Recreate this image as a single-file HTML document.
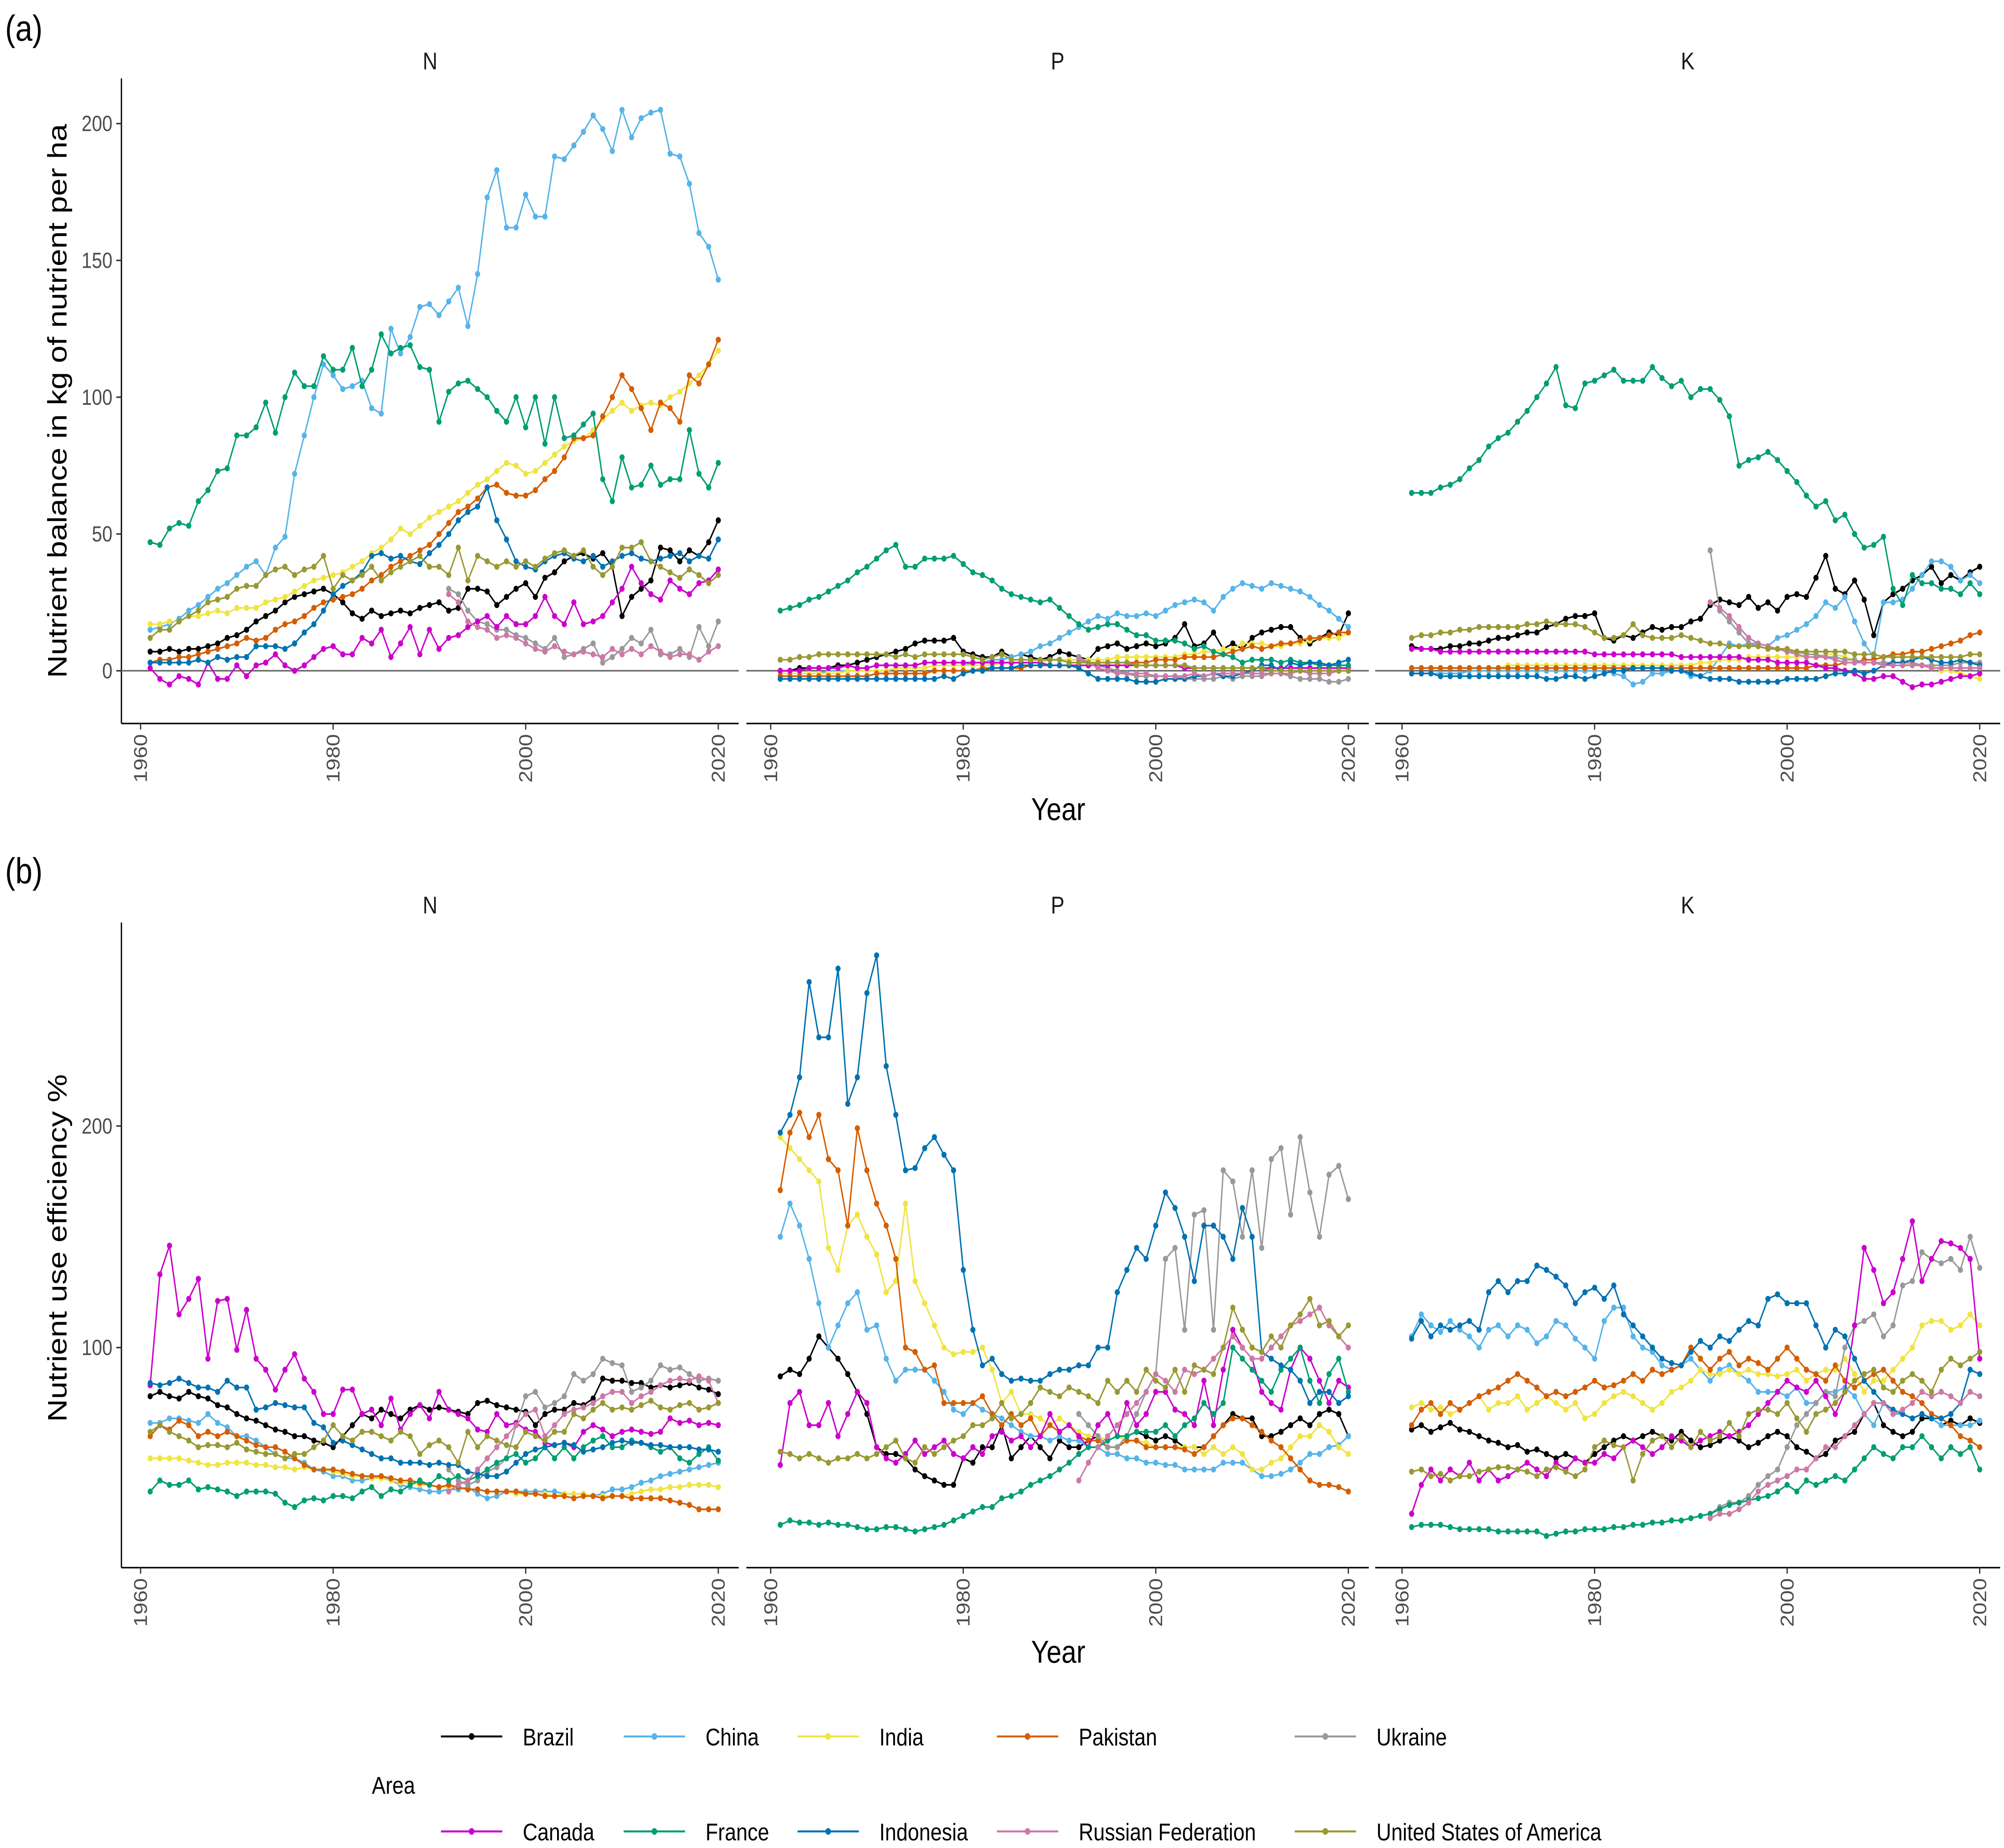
<!DOCTYPE html>
<html><head><meta charset="utf-8"><style>
html,body{margin:0;padding:0;background:#fff;overflow:hidden;width:100vw;height:100vh;}
svg{display:block;font-family:"Liberation Sans",Arial,sans-serif;width:100vw;height:100vh;}
</style></head><body>
<svg id="chart" xmlns="http://www.w3.org/2000/svg" viewBox="0 0 1568 1226" preserveAspectRatio="none">
<rect x="0" y="0" width="1568" height="1226" fill="#fff"/>
<g id="plots"></g>
<text x="4" y="27" font-size="24">(a)</text>
<text x="4" y="586" font-size="24">(b)</text>
<text transform="translate(52,266) rotate(-90)" text-anchor="middle" font-size="21">Nutrient balance in kg of nutrient per ha</text>
<text transform="translate(52,828) rotate(-90)" text-anchor="middle" font-size="21">Nutrient use efficiency %</text>
<text x="828" y="544" text-anchor="middle" font-size="21">Year</text>
<text x="828" y="1103" text-anchor="middle" font-size="21">Year</text>
<g id="legend">
<text x="291" y="1190" font-size="16">Area</text>
</g>
</svg>
<script>
const years = [];
for (let y = 1961; y <= 2020; y++) years.push(y);
const N = null;
const seriesNames = ["Brazil","China","India","Pakistan","Ukraine","Canada","France","Indonesia","Russian Federation","United States of America"];
const seriesColors = ["#000000","#56B4E9","#F0E442","#D55E00","#999999","#CC00CC","#009E73","#0072B2","#CC79A7","#999933"];
const yTicksA = [0,50,100,150,200];
const yTicksB = [100,200];
const xTicks = [1960,1980,2000,2020];
const panelLabels = ["N","P","K"];

// (a) Nutrient balance N
const aN_Brazil = [7,7,8,7,8,8,9,10,12,13, 15,18,20,22,25,27,28,29,30,28, 25,21,19,22,20,21,22,21,23,24, 25,22,23,30,30,29,24,27,30,32, 27,34,36,40,42,43,41,43,38,20, 27,30,33,45,44,40,44,42,47,55];
const aN_China = [15,16,17,19,22,24,27,30,32,35, 38,40,35,45,49,72,86,100,112,108, 103,104,106,96,94,125,116,122,133,134, 130,135,140,126,145,173,183,162,162,174, 166,166,188,187,192,197,203,198,190,205, 195,202,204,205,189,188,178,160,155,143];
const aN_India = [17,17,18,18,20,20,21,22,21,23, 23,23,25,26,27,29,31,33,34,35, 36,38,40,43,45,48,52,50,53,56, 58,60,62,65,68,70,73,76,75,72, 73,76,79,82,84,85,88,92,95,98, 95,97,98,97,100,102,105,108,112,117];
const aN_Pakistan = [3,4,4,5,5,6,7,8,9,10, 12,11,12,15,17,18,20,23,25,26, 27,28,30,33,35,38,40,42,44,46, 50,54,58,60,63,67,68,65,64,64, 66,70,73,78,85,85,86,93,100,108, 103,96,88,98,96,91,108,105,112,121];
const aN_Ukraine = [N,N,N,N,N,N,N,N,N,N, N,N,N,N,N,N,N,N,N,N, N,N,N,N,N,N,N,N,N,N, N,30,28,22,18,17,15,15,13,12, 10,8,12,5,6,8,10,3,5,8, 12,10,15,6,6,8,5,16,9,18];
const aN_Canada = [1,-3,-5,-2,-3,-5,3,-3,-3,2, -2,2,3,6,2,0,2,5,8,9, 6,6,12,10,15,5,10,16,6,15, 8,12,13,16,18,20,16,20,17,17, 20,27,20,17,25,17,18,20,25,30, 38,32,28,26,33,30,28,32,33,37];
const aN_France = [47,46,52,54,53,62,66,73,74,86, 86,89,98,87,100,109,104,104,115,110, 110,118,104,110,123,116,118,119,111,110, 91,102,105,106,103,100,95,91,100,89, 100,83,100,85,86,90,94,70,62,78, 67,68,75,68,70,70,88,72,67,76];
const aN_Indonesia = [3,3,3,3,3,4,3,5,4,5, 5,9,9,9,8,10,14,17,22,28, 31,33,36,42,43,41,42,40,39,43, 46,50,55,58,60,67,55,48,40,38, 37,40,42,43,41,40,42,38,40,42, 43,41,40,41,42,43,40,42,41,48];
const aN_Russia = [N,N,N,N,N,N,N,N,N,N, N,N,N,N,N,N,N,N,N,N, N,N,N,N,N,N,N,N,N,N, N,28,25,18,16,15,12,13,12,10, 8,7,9,7,6,7,6,5,8,6, 8,6,9,7,5,6,6,4,7,9];
const aN_USA = [12,15,15,18,20,22,25,26,27,30, 31,31,35,37,38,35,37,38,42,30, 35,33,35,38,33,36,38,40,42,38, 38,35,45,33,42,40,38,40,38,40, 38,41,43,44,42,44,38,35,38,45, 45,47,40,38,36,34,37,35,32,35];

// (a) Nutrient balance P
const aP_Brazil = [0,0,1,1,1,1,2,2,3,4, 5,6,7,8,10,11,11,11,12,7, 6,5,5,7,5,6,5,4,5,7, 6,5,4,8,9,10,8,9,10,9, 10,12,17,9,10,14,8,10,8,12, 14,15,16,16,12,10,12,14,13,21];
const aP_China = [-1,-1,-1,-1,-1,0,0,0,0,0, 0,0,1,1,1,1,2,2,2,2, 3,3,4,4,5,6,7,9,10,12, 14,16,18,20,19,21,20,20,21,20, 22,24,25,26,25,22,27,30,32,31, 30,32,31,30,29,27,24,22,19,16];
const aP_India = [-1,-1,-1,-1,-1,-1,-1,0,0,0, 0,0,1,1,1,1,2,2,2,2, 2,2,2,3,3,3,3,3,4,4, 4,4,4,4,4,5,5,5,5,5, 5,5,6,6,7,7,8,8,10,10, 10,9,9,10,10,11,12,12,12,14];
const aP_Pakistan = [-2,-2,-2,-2,-2,-2,-2,-2,-2,-2, -1,-1,-1,-1,-1,-1,0,0,0,0, 0,1,1,1,1,1,2,2,2,2, 2,2,2,3,3,3,3,3,3,4, 4,4,5,5,5,5,6,7,8,9, 8,9,10,10,11,12,12,13,14,14];
const aP_Ukraine = [N,N,N,N,N,N,N,N,N,N, N,N,N,N,N,N,N,N,N,N, N,N,N,N,N,N,N,N,N,N, N,5,3,2,1,0,-1,-2,-2,-2, -2,-2,-3,-3,-3,-3,-2,-3,-2,-2, -2,-1,-1,-2,-3,-3,-3,-4,-4,-3];
const aP_Canada = [0,0,0,1,1,1,1,2,1,1, 2,2,2,2,2,3,3,3,3,3, 3,3,3,3,3,3,3,3,2,2, 2,2,2,2,2,2,2,2,2,2, 2,2,1,1,1,1,1,1,1,1, 1,1,1,1,1,1,1,1,1,1];
const aP_France = [22,23,24,26,27,29,31,33,36,38, 41,44,46,38,38,41,41,41,42,39, 36,35,33,30,28,27,26,25,26,23, 20,17,15,16,17,17,15,13,13,11, 11,11,10,8,9,7,6,5,3,4, 4,4,3,4,3,3,2,2,2,2];
const aP_Indonesia = [-3,-3,-3,-3,-3,-3,-3,-3,-3,-3, -3,-3,-3,-3,-3,-3,-3,-2,-3,-1, 0,0,1,1,1,2,2,2,2,2, 2,1,-1,-3,-3,-3,-3,-4,-4,-4, -3,-3,-3,-2,-2,-1,-2,-2,-1,0, 2,2,0,3,2,3,3,2,3,4];
const aP_Russia = [N,N,N,N,N,N,N,N,N,N, N,N,N,N,N,N,N,N,N,N, N,N,N,N,N,N,N,N,N,N, N,4,3,1,0,-1,-1,-1,-1,-2, -2,-2,-2,-1,-2,-1,-1,-1,-1,-1, -1,-1,-1,-1,0,-1,-1,-1,0,0];
const aP_USA = [4,4,5,5,6,6,6,6,6,6, 6,6,5,6,5,6,6,6,6,6, 5,4,5,6,4,4,4,4,4,4, 3,3,3,3,3,3,3,2,2,2, 2,2,2,1,1,1,1,1,1,1, 1,0,0,0,0,0,0,0,0,0];

// (a) Nutrient balance K
const aK_Brazil = [9,8,8,8,9,9,10,10,11,12, 12,13,14,14,16,17,19,20,20,21, 12,11,13,12,14,16,15,16,16,18, 19,24,26,25,24,27,23,25,22,27, 28,27,34,42,30,28,33,26,13,25, 28,30,33,35,38,32,35,33,36,38];
const aK_China = [-1,-1,-1,-1,-1,-1,0,0,0,0, 0,0,0,0,0,0,0,0,0,0, 0,-1,-2,-5,-4,-1,-1,0,0,-2, -2,0,5,10,9,10,10,9,12,13, 15,17,20,25,23,27,18,10,5,25, 25,26,30,35,40,40,38,33,35,32];
const aK_India = [1,1,1,1,1,1,1,1,1,1, 2,2,2,2,2,2,2,2,2,2, 2,2,2,2,2,2,2,2,2,2, 3,3,4,4,4,5,5,5,5,5, 5,5,5,6,6,5,4,3,3,3, 3,3,2,2,2,0,0,-1,-2,-3];
const aK_Pakistan = [1,1,1,1,1,1,1,1,1,1, 1,1,1,1,1,1,1,1,1,1, 1,1,1,1,1,1,1,1,1,1, 1,1,1,1,1,1,1,1,1,1, 1,1,2,2,2,3,3,4,4,5, 6,6,7,7,8,9,10,11,13,14];
const aK_Ukraine = [N,N,N,N,N,N,N,N,N,N, N,N,N,N,N,N,N,N,N,N, N,N,N,N,N,N,N,N,N,N, N,44,22,18,14,10,9,8,8,7, 7,6,6,5,5,4,4,3,3,3, 3,3,3,2,2,2,2,3,3,3];
const aK_Canada = [8,8,8,7,7,7,7,7,7,7, 7,7,7,7,7,7,7,7,7,6, 6,6,6,6,6,6,6,6,5,5, 5,5,5,5,5,4,4,4,3,3, 3,3,2,1,1,0,-1,-3,-3,-2, -2,-4,-6,-5,-5,-4,-3,-2,-2,-1];
const aK_France = [65,65,65,67,68,70,74,77,82,85, 87,91,95,100,105,111,97,96,105,106, 108,110,106,106,106,111,107,104,106,100, 103,103,99,93,75,77,78,80,77,73, 69,64,60,62,55,57,50,45,46,49, 30,24,35,32,32,30,30,28,32,28];
const aK_Indonesia = [-1,-1,-1,-2,-2,-2,-2,-2,-2,-2, -2,-2,-2,-2,-3,-3,-2,-2,-3,-2, -1,0,0,1,1,1,1,0,0,-1, -2,-3,-3,-3,-4,-4,-4,-4,-4,-3, -3,-3,-3,-2,-1,-1,0,-1,0,2, 3,3,4,5,4,3,3,4,3,2];
const aK_Russia = [N,N,N,N,N,N,N,N,N,N, N,N,N,N,N,N,N,N,N,N, N,N,N,N,N,N,N,N,N,N, N,25,23,20,16,12,10,9,8,7, 6,5,5,5,4,3,3,3,3,2, 2,2,2,2,1,1,1,1,1,1];
const aK_USA = [12,13,13,14,14,15,15,16,16,16, 16,16,17,17,18,17,17,17,16,14, 12,12,13,17,13,12,12,12,13,12, 11,10,10,9,9,9,9,8,8,8, 7,7,7,7,7,7,6,6,6,5, 5,5,5,5,5,5,5,5,6,6];

// (b) NUE N
const bN_Brazil = [78,80,78,77,80,78,77,74,73,70, 68,67,65,63,62,60,60,58,57,55, 60,65,70,68,72,70,68,72,74,72, 73,72,71,70,75,76,74,73,72,71, 65,70,72,72,75,74,77,86,85,85, 84,84,82,83,82,83,84,82,81,79];
const bN_China = [66,66,68,68,67,66,70,66,64,60, 60,58,55,52,50,50,48,45,44,42, 42,40,40,41,42,40,38,37,36,35, 35,36,36,37,34,32,33,35,35,35, 35,35,35,34,34,34,33,34,36,36, 37,39,40,42,43,44,45,46,47,48];
const bN_India = [50,50,50,50,49,48,47,47,48,48, 48,47,47,46,46,45,46,45,45,44, 43,42,42,41,41,40,39,39,38,38, 37,37,37,36,36,35,35,35,34,34, 34,34,33,34,34,34,33,33,33,33, 34,35,36,36,37,37,38,38,38,37];
const bN_Pakistan = [60,65,63,67,65,60,62,60,62,60, 58,56,55,55,53,50,47,45,45,45, 44,43,42,42,42,41,40,40,39,38, 37,38,37,36,36,35,35,35,35,34, 34,33,33,33,32,33,33,32,33,33, 32,32,32,32,31,30,29,27,27,27];
const bN_Ukraine = [N,N,N,N,N,N,N,N,N,N, N,N,N,N,N,N,N,N,N,N, N,N,N,N,N,N,N,N,N,N, N,45,40,38,40,44,46,50,65,78, 80,73,75,78,88,85,88,95,93,92, 80,82,85,92,90,91,88,85,86,85];
const bN_Canada = [83,133,146,115,122,131,95,121,122,99, 117,95,90,81,90,97,86,80,70,70, 81,81,70,72,65,77,63,70,74,68, 80,72,70,68,63,62,70,65,66,63, 62,57,56,57,55,62,65,63,60,62, 63,62,61,62,68,66,67,65,66,65];
const bN_France = [35,40,38,38,40,36,37,36,35,33, 35,35,35,34,30,28,31,32,31,33, 33,32,35,37,33,36,35,38,40,38, 42,40,42,40,42,45,48,50,52,48, 50,55,50,55,50,55,58,60,55,55, 58,57,55,53,55,50,48,52,55,49];
const bN_Indonesia = [84,83,84,86,84,82,82,80,85,82, 82,72,73,75,74,73,73,66,64,57, 58,56,54,52,50,50,48,48,48,47, 48,47,47,44,43,42,42,44,48,52, 54,55,56,57,56,53,54,55,57,58, 57,57,56,56,55,55,55,54,54,53];
const bN_Russia = [N,N,N,N,N,N,N,N,N,N, N,N,N,N,N,N,N,N,N,N, N,N,N,N,N,N,N,N,N,N, N,35,38,40,45,50,55,60,65,70, 72,60,65,70,72,73,75,78,80,80, 75,78,80,83,85,86,85,87,85,75];
const bN_USA = [62,65,62,60,58,55,56,56,55,57, 54,53,52,52,50,52,52,55,58,65, 60,58,62,62,60,58,62,60,52,56, 58,55,48,62,55,60,58,56,55,62, 60,58,62,62,70,68,72,75,72,73, 72,74,76,73,72,74,75,72,73,75];

// (b) NUE P
const bP_Brazil = [87,90,88,95,105,100,95,88,80,70, 55,52,52,50,45,42,40,38,38,50, 48,55,55,65,50,55,60,55,50,58, 55,55,58,60,55,55,60,62,60,58, 60,58,55,55,55,60,65,70,68,68, 60,60,62,65,68,65,70,72,70,60];
const bP_China = [150,165,155,140,120,100,110,120,125,108, 110,95,85,90,90,90,85,80,72,70, 75,72,70,68,65,62,60,60,58,60, 58,58,55,55,52,52,50,50,48,48, 47,47,45,45,45,45,48,48,48,45, 42,42,43,45,48,52,52,55,56,60];
const bP_India = [195,190,185,180,175,145,135,155,160,150, 142,125,130,165,130,120,110,100,97,98, 98,100,90,75,80,70,70,68,65,68, 65,62,60,60,58,60,58,58,57,55, 55,55,55,55,52,55,52,55,52,45, 45,48,50,55,60,60,65,62,55,52];
const bP_Pakistan = [171,197,206,195,205,185,180,155,199,180, 165,155,140,100,98,90,92,75,75,75, 75,78,70,65,70,65,68,60,65,62, 65,60,58,58,55,55,58,58,55,55, 55,55,54,52,55,60,65,68,68,65, 62,58,55,50,45,40,38,38,37,35];
const bP_Ukraine = [N,N,N,N,N,N,N,N,N,N, N,N,N,N,N,N,N,N,N,N, N,N,N,N,N,N,N,N,N,N, N,70,65,60,55,55,60,70,80,88, 140,145,108,160,162,108,180,175,150,180, 145,185,190,160,195,170,150,178,182,167];
const bP_Canada = [47,75,80,65,65,75,60,70,80,75, 55,50,48,52,58,52,55,58,52,50, 55,52,60,62,58,60,55,60,70,62, 65,60,55,65,70,60,75,65,70,80, 80,72,70,65,85,65,90,108,100,95, 80,75,72,90,100,95,85,75,85,82];
const bP_France = [20,22,21,21,20,21,20,20,19,18, 18,19,19,18,17,18,19,20,22,24, 26,28,28,32,33,35,38,40,42,45, 48,52,55,55,58,60,60,62,62,62, 65,60,65,68,75,70,75,100,95,90, 85,80,90,95,100,85,75,88,95,80];
const bP_Indonesia = [197,205,222,265,240,240,271,210,222,260, 277,227,205,180,181,190,195,187,180,135, 108,92,95,88,85,86,85,85,88,90, 90,92,92,100,100,125,135,145,140,155, 170,163,150,130,155,155,150,140,163,150, 98,95,92,90,85,75,80,80,75,78];
const bP_Russia = [N,N,N,N,N,N,N,N,N,N, N,N,N,N,N,N,N,N,N,N, N,N,N,N,N,N,N,N,N,N, N,40,48,55,60,65,70,75,80,88, 85,80,90,88,90,95,100,105,100,95, 95,100,105,110,112,115,118,110,105,100];
const bP_USA = [53,52,50,52,50,48,50,50,52,50, 52,55,58,50,48,55,52,55,58,60, 65,65,68,75,68,70,75,82,80,78, 82,80,78,75,85,80,85,80,90,85, 82,90,80,92,90,88,100,118,108,100, 98,105,100,110,115,122,110,112,105,110];

// (b) NUE K
const bK_Brazil = [63,65,62,64,66,63,62,60,58,57, 55,56,53,54,52,50,52,50,48,52, 55,58,60,58,60,62,60,58,62,58, 55,56,58,60,58,55,57,60,62,60, 55,53,50,52,58,60,62,70,75,65, 62,60,62,68,68,65,67,65,68,66];
const bK_China = [105,115,110,107,112,108,105,100,108,110, 105,110,108,102,105,112,110,104,100,95, 112,118,118,105,100,98,92,90,92,95, 90,85,90,92,88,85,80,80,80,78, 82,75,75,80,80,82,78,70,65,75, 70,70,68,70,68,65,65,65,65,67];
const bK_India = [73,75,72,73,70,72,75,78,72,75, 75,78,72,75,78,75,72,75,68,70, 75,78,80,78,75,72,75,80,82,85, 90,88,88,90,88,90,88,88,87,88, 90,85,88,90,90,95,88,80,85,85, 90,95,100,110,112,112,108,110,115,110];
const bK_Pakistan = [65,72,75,70,75,72,75,78,80,82, 85,88,85,82,78,80,78,80,82,85, 82,83,85,88,85,90,88,90,92,100, 95,90,95,98,92,95,93,90,95,100, 95,90,88,85,92,85,82,85,88,90, 85,80,78,75,70,68,65,60,58,55];
const bK_Ukraine = [N,N,N,N,N,N,N,N,N,N, N,N,N,N,N,N,N,N,N,N, N,N,N,N,N,N,N,N,N,N, N,25,28,30,30,33,38,42,45,55, 65,70,75,80,78,100,110,112,115,105, 110,128,130,143,140,138,140,135,150,136];
const bK_Canada = [25,38,45,40,45,42,48,40,45,40, 42,45,48,45,42,48,45,50,48,48, 52,50,55,58,55,52,55,60,58,55, 58,60,62,60,62,65,70,75,80,85, 82,80,85,78,70,80,110,145,135,120, 125,140,157,130,140,148,147,145,140,95];
const bK_France = [19,20,20,20,19,18,18,18,18,17, 17,17,17,17,15,16,17,17,18,18, 18,19,19,20,20,21,21,22,22,23, 24,25,27,29,30,31,32,33,35,38, 35,40,38,40,42,40,45,50,55,52, 50,55,55,60,55,50,55,52,55,45];
const bK_Indonesia = [104,112,105,110,108,110,112,108,125,130, 125,130,130,137,135,132,128,120,125,127, 122,128,115,110,105,100,95,93,92,98, 103,100,105,103,108,112,110,122,124,120, 120,120,110,100,108,105,95,85,80,75, 72,70,68,70,68,68,70,75,90,88];
const bK_Russia = [N,N,N,N,N,N,N,N,N,N, N,N,N,N,N,N,N,N,N,N, N,N,N,N,N,N,N,N,N,N, N,23,25,25,27,30,35,38,40,42, 45,45,50,55,55,60,65,70,75,75, 70,72,75,80,78,80,78,75,80,78];
const bK_USA = [44,45,42,43,40,42,42,44,45,46, 46,45,44,42,45,46,44,42,45,55, 58,56,55,40,52,58,60,55,60,55, 62,58,60,66,60,70,72,72,70,75, 68,62,70,72,75,80,85,88,90,82, 80,85,88,85,80,90,95,92,95,98];

const panelsData = {
  aN:[aN_Brazil,aN_China,aN_India,aN_Pakistan,aN_Ukraine,aN_Canada,aN_France,aN_Indonesia,aN_Russia,aN_USA],
  aP:[aP_Brazil,aP_China,aP_India,aP_Pakistan,aP_Ukraine,aP_Canada,aP_France,aP_Indonesia,aP_Russia,aP_USA],
  aK:[aK_Brazil,aK_China,aK_India,aK_Pakistan,aK_Ukraine,aK_Canada,aK_France,aK_Indonesia,aK_Russia,aK_USA],
  bN:[bN_Brazil,bN_China,bN_India,bN_Pakistan,bN_Ukraine,bN_Canada,bN_France,bN_Indonesia,bN_Russia,bN_USA],
  bP:[bP_Brazil,bP_China,bP_India,bP_Pakistan,bP_Ukraine,bP_Canada,bP_France,bP_Indonesia,bP_Russia,bP_USA],
  bK:[bK_Brazil,bK_China,bK_India,bK_Pakistan,bK_Ukraine,bK_Canada,bK_France,bK_Indonesia,bK_Russia,bK_USA]
};

const NS = "http://www.w3.org/2000/svg";
const root = document.getElementById("plots");
function mk(tag, attrs, parent) {
  const e = document.createElementNS(NS, tag);
  for (const k in attrs) e.setAttribute(k, attrs[k]);
  (parent || root).appendChild(e);
  return e;
}
const panelLeft = [95, 584, 1076];
const panelRight = [578, 1071, 1565];
const year1960X = [110, 603, 1097];
const pxPerYear = 452 / 60;
function xScale(p, yr) { return year1960X[p] + (yr - 1960) * pxPerYear; }
const rows = [
  {key:"a", top:52, bottom:480, y0:445, k:(445-82)/200, ticks:yTicksA, zero:true, strip:40},
  {key:"b", top:612, bottom:1040, y0:1041, k:(1041-747)/200, ticks:yTicksB, zero:false, strip:600}
];
rows.forEach(function(r){
  const yScale = function(v){ return r.y0 - v * r.k; };
  const yax = mk("line",{x1:95,y1:r.top,x2:95,y2:r.bottom,stroke:"#000","stroke-width":1});
  
  
  r.ticks.forEach(function(t){
    const ty = yScale(t);
    const tk = mk("line",{x1:91,y1:ty,x2:95,y2:ty,stroke:"#333","stroke-width":1});
    
    
    const tl = mk("text",{x:88,y:ty+5,"text-anchor":"end","font-size":"14.5",fill:"#4D4D4D"});
    tl.textContent = t;
    
    
  });
  for (let p = 0; p < 3; p++) {
    const st = mk("text",{x:(panelLeft[p]+panelRight[p])/2,y:r.strip+6,"text-anchor":"middle","font-size":"16",fill:"#1a1a1a"});
    st.textContent = panelLabels[p];
    
    
    const xax = mk("line",{x1:panelLeft[p],y1:r.bottom,x2:panelRight[p],y2:r.bottom,stroke:"#000","stroke-width":1});
    
    
    if (r.zero) {
      const zl = mk("line",{x1:panelLeft[p],y1:r.y0,x2:panelRight[p],y2:r.y0,stroke:"#666","stroke-width":1});
      
      
    }
    xTicks.forEach(function(t){
      const tx = xScale(p, t);
      const tk = mk("line",{x1:tx,y1:r.bottom,x2:tx,y2:r.bottom+4,stroke:"#333","stroke-width":1});
      
      
      const tl = mk("text",{transform:"translate("+(tx+5)+","+(r.bottom+7)+") rotate(-90)","text-anchor":"end","font-size":"14.5",fill:"#4D4D4D"});
      tl.textContent = t;
      
      
    });
    const data = panelsData[r.key + panelLabels[p]];
    data.forEach(function(vals, si){
      const g = mk("g",{});
      
      
      let d = "", pen = false;
      vals.forEach(function(v, i){
        if (v === null) { pen = false; return; }
        const x = xScale(p, years[i]), y = yScale(v);
        d += (pen ? "L" : "M") + x.toFixed(1) + "," + y.toFixed(1);
        pen = true;
      });
      const path = mk("path",{d:d,fill:"none",stroke:seriesColors[si],"stroke-width":1.1}, g);
      
      
      vals.forEach(function(v, i){
        if (v === null) return;
        const c = mk("circle",{cx:xScale(p, years[i]).toFixed(1),cy:yScale(v).toFixed(1),r:2,fill:seriesColors[si]}, g);
        
        
      });
    });
  }
});
const legend = document.getElementById("legend");
const legX = [345, 488, 624, 780, 1013];
const legY = [1152, 1215];
seriesNames.forEach(function(nm, i){
  const row = i < 5 ? 0 : 1, col = i % 5;
  const g = mk("g",{}, legend);
  
  
  const x = legX[col], y = legY[row];
  const ln = mk("line",{x1:x,y1:y,x2:x+48,y2:y,stroke:seriesColors[i],"stroke-width":1.3}, g);
  
  
  const c = mk("circle",{cx:x+24,cy:y,r:2.2,fill:seriesColors[i]}, g);
  
  
  const t = mk("text",{x:x+64,y:y+6,"font-size":"16",fill:"#000"}, g);
  t.textContent = nm;
  
  
});
</script>
</body></html>
